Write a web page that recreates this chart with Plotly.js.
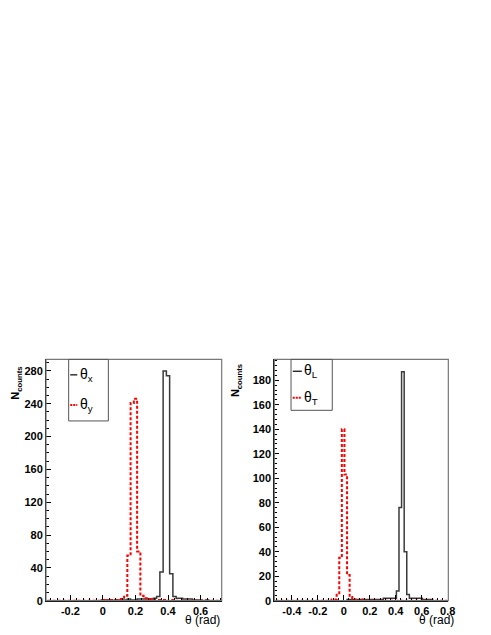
<!DOCTYPE html>
<html>
<head>
<meta charset="utf-8">
<script src="https://cdn.plot.ly/plotly-3.0.1.min.js"></script>
<style>
  html, body { margin: 0; padding: 0; background: #fff; }
  #chart { width: 491px; height: 635px; }
</style>
</head>
<body>
<div id="chart"></div>
<script>
// Left panel: theta_x / theta_y, 0.02 rad bins starting at -0.35
const leftBinStart = -0.34;   // first bin centre
const leftBinWidth = 0.02;
const thetaX = [
  0, 0, 0, 0, 0, 0, 0, 0, 0, 0, 0, 0, 0, 0, 0, 0, 0,
  1, 1, 1, 0, 1, 1, 1, 1, 2, 1, 1, 2, 2, 2, 2, 2, 3, 5,
  35, 280, 274, 33, 5, 3, 3, 2, 2, 2, 1, 1, 1, 0, 1, 0, 0, 0, 0
];
const thetaY = [
  0, 0, 0, 0, 0, 0, 0, 0, 0, 0, 0, 0, 0, 0, 0, 0, 0,
  1, 0, 1, 1, 1, 1, 2, 6, 55, 241, 246, 60, 6, 3, 2, 2, 1, 1,
  1, 1, 0, 1, 0, 0, 0, 0, 0, 0, 0, 0, 0, 0, 0, 0, 0, 0, 0
];

// Right panel: theta_L / theta_T, 0.02 rad bins starting at -0.535
const rightBinStart = -0.525;
const rightBinWidth = 0.02;
const thetaL = [
  0, 0, 0, 0, 0, 0, 0, 0, 0, 0, 0, 0, 0, 0, 0, 0, 0, 0, 0, 0,
  0, 0, 0, 0, 0, 0, 0, 0, 1, 1, 1, 0, 1, 1, 1, 1, 1, 1, 1, 1,
  1, 1, 2, 2, 2, 2, 2, 8, 76, 187, 40, 5, 2, 2, 2, 2, 2, 1, 1, 1,
  1, 0, 0, 0, 0, 0, 0
];
const thetaT = [
  0, 0, 0, 0, 0, 0, 0, 0, 0, 0, 0, 0, 0, 0, 0, 0, 0, 0, 0, 0,
  0, 0, 1, 1, 6, 35, 140, 103, 21, 3, 1, 1, 0, 1, 0, 0, 0, 0, 0, 0,
  0, 0, 0, 0, 0, 0, 0, 0, 0, 0, 0, 0, 0, 0, 0, 0, 0, 0, 0, 0,
  0, 0, 0, 0, 0, 0, 0
];

const leftTicks = [-0.2, 0, 0.2, 0.4, 0.6];
const leftTickText = ["-0.2", "0", "0.2", "0.4", "0.6"];
const rightTicks = [-0.4, -0.2, 0, 0.2, 0.4, 0.6, 0.8];
const rightTickText = ["-0.4", "-0.2", "0", "0.2", "0.4", "0.6", "0.8"];

const BLACK = "#3a3a3a";
const RED = "#ff0000";
const FONT = "Liberation Sans, Arial, sans-serif";
const tickFont = { family: FONT, size: 11, color: "#000", weight: "bold" };

function histTrace(x0, dx, y, color, dash, xa, ya) {
  return {
    type: "scatter", mode: "lines",
    x0: x0, dx: dx, y: y,
    xaxis: xa, yaxis: ya,
    line: { shape: "hvh", color: color, width: dash ? 2 : 1.5, dash: dash || "solid" },
    hoverinfo: "x+y", showlegend: false,
  };
}

const traces = [
  histTrace(leftBinStart, leftBinWidth, thetaX, BLACK, null, "x", "y"),
  histTrace(leftBinStart, leftBinWidth, thetaY, RED, "3px,2px", "x", "y"),
  histTrace(rightBinStart, rightBinWidth, thetaL, BLACK, null, "x2", "y2"),
  histTrace(rightBinStart, rightBinWidth, thetaT, RED, "3px,2px", "x2", "y2"),
];

function xAxis(domain, range, vals, text, anchor) {
  return {
    domain: domain, range: range, anchor: anchor,
    tickmode: "array", tickvals: vals, ticktext: text,
    ticks: "inside", ticklen: 6, tickcolor: "#000", tickwidth: 1,
    minor: { dtick: 0.04, tick0: 0, ticks: "inside", ticklen: 3, tickcolor: "#000" },
    showline: true, linecolor: "#000", linewidth: 1,
    showgrid: false, zeroline: false, tickfont: tickFont, automargin: false,
  };
}
function yAxis(domain, range, dtick, minorDtick, anchor) {
  return {
    domain: domain, range: range, anchor: anchor,
    dtick: dtick, tick0: 0,
    ticks: "inside", ticklen: 5, tickcolor: "#000", tickwidth: 1,
    minor: { dtick: minorDtick, tick0: 0, ticks: "inside", ticklen: 3, tickcolor: "#000" },
    showline: true, linecolor: "#000", linewidth: 1,
    showgrid: false, zeroline: false, tickfont: tickFont, automargin: false,
  };
}

const yDom = [0.054, 0.434];
const frame = (xr, yr) => ({
  type: "rect", xref: xr + " domain", yref: yr + " domain",
  x0: 0, x1: 1, y0: 0, y1: 1, line: { color: "#777", width: 1.2 },
});
const legendBox = (xr, yr, x0, x1, y0) => ({
  type: "rect", xref: xr + " domain", yref: yr + " domain",
  x0: x0, x1: x1, y0: y0, y1: 1, line: { color: "#555", width: 1 }, fillcolor: "#fff",
});
const sample = (xr, yr, x0, x1, y, color, dash) => ({
  type: "line", xref: xr + " domain", yref: yr + " domain",
  x0: x0, x1: x1, y0: y, y1: y, line: { color: color, width: dash ? 2 : 1.2, dash: dash || "solid" },
});
const legendText = (xr, yr, x, y, text) => ({
  xref: xr + " domain", yref: yr + " domain", x: x, y: y,
  xanchor: "left", yanchor: "middle", showarrow: false, text: text,
  font: { family: FONT, size: 14, color: "#000" },
});
const yTitle = (x, y) => ({
  xref: "paper", yref: "paper", x: x, y: y, xanchor: "center", yanchor: "top",
  showarrow: false, textangle: -90, text: "<b>N<sub>counts</sub></b>",
  font: { family: FONT, size: 11, color: "#000" },
});
const xTitle = (x, y) => ({
  xref: "paper", yref: "paper", x: x, y: y, xanchor: "center", yanchor: "middle",
  showarrow: false, text: "θ (rad)", font: { family: FONT, size: 12, color: "#000" },
});

const layout = {
  width: 491, height: 635,
  margin: { l: 0, r: 0, t: 0, b: 0 },
  paper_bgcolor: "#fff", plot_bgcolor: "#fff",
  showlegend: false,
  xaxis: xAxis([0.0937, 0.4515], [-0.35, 0.73], leftTicks, leftTickText, "y"),
  yaxis: yAxis(yDom, [0, 294], 40, 10, "x"),
  xaxis2: xAxis([0.5587, 0.9131], [-0.535, 0.805], rightTicks, rightTickText, "y2"),
  yaxis2: yAxis(yDom, [0, 197], 20, 4, "x2"),
  shapes: [
    frame("x", "y"), frame("x2", "y2"),
    legendBox("x", "y", 0.129, 0.355, 0.745),
    legendBox("x2", "y2", 0.096, 0.333, 0.789),
    sample("x", "y", 0.138, 0.178, 0.936, "#000"),
    sample("x", "y", 0.138, 0.178, 0.811, RED, "2px,1px"),
    sample("x2", "y2", 0.106, 0.158, 0.951, "#000"),
    sample("x2", "y2", 0.106, 0.158, 0.841, RED, "2px,1px"),
  ],
  annotations: [
    legendText("x", "y", 0.18, 0.936, "θ<sub>x</sub>"),
    legendText("x", "y", 0.18, 0.811, "θ<sub>y</sub>"),
    legendText("x2", "y2", 0.16, 0.951, "θ<sub>L</sub>"),
    legendText("x2", "y2", 0.16, 0.841, "θ<sub>T</sub>"),
    yTitle(0.0326, 0.425), yTitle(0.482, 0.43),
    xTitle(0.4134, 0.0236), xTitle(0.889, 0.0236),
  ],
};

Plotly.newPlot("chart", traces, layout, { displayModeBar: false, staticPlot: true });
</script>
</body>
</html>
